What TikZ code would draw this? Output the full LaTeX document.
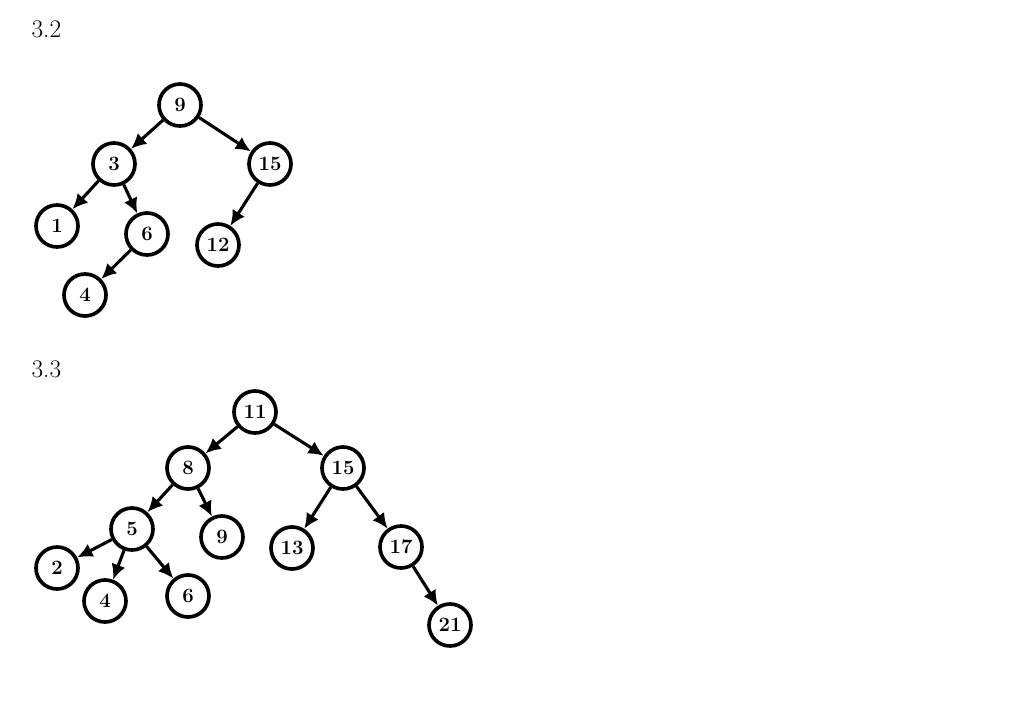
\documentclass[tikz,border=0pt]{standalone}
\usepackage{fontspec}
\usetikzlibrary{arrows.meta}

\tikzset{
    knot/.style={draw, circle, line width=2.6pt, minimum size=1.05cm, inner sep=0pt,
        font=\fontsize{14.5}{16}\selectfont\bfseries},
    edge/.style={-{Latex[length=3.8mm,width=3.6mm]}, line width=2.2pt},
    heading/.style={font=\fontsize{18}{20}\selectfont}
}

\begin{document}
\begin{tikzpicture}
        \useasboundingbox (0,0) rectangle (25.6,-17.775);

        \node[heading] (h32) at (1.16,-0.725) {3.2};

        \node[knot] (a9) at (4.5,-2.625) {9};
        \node[knot] (a3) at (2.85,-4.1) {3};
        \node[knot] (a15) at (6.75,-4.1) {15};
        \node[knot] (a1) at (1.425,-5.65) {1};
        \node[knot] (a6) at (3.675,-5.85) {6};
        \node[knot] (a12) at (5.45,-6.125) {12};
        \node[knot] (a4) at (2.125,-7.375) {4};

        \draw[edge] (a9) -- (a3);
        \draw[edge] (a9) -- (a15);
        \draw[edge] (a3) -- (a1);
        \draw[edge] (a3) -- (a6);
        \draw[edge] (a15) -- (a12);
        \draw[edge] (a6) -- (a4);

        \node[heading] (h33) at (1.16,-9.225) {3.3};

        \node[knot] (b11) at (6.375,-10.3) {11};
        \node[knot] (b8) at (4.7,-11.7) {8};
        \node[knot] (b15) at (8.575,-11.7) {15};
        \node[knot] (b5) at (3.3,-13.225) {5};
        \node[knot] (b9) at (5.55,-13.425) {9};
        \node[knot] (b13) at (7.3,-13.7) {13};
        \node[knot] (b17) at (10.025,-13.675) {17};
        \node[knot] (b2) at (1.425,-14.2) {2};
        \node[knot] (b4) at (2.625,-15.025) {4};
        \node[knot] (b6) at (4.7,-14.9) {6};
        \node[knot] (b21) at (11.25,-15.625) {21};

        \draw[edge] (b11) -- (b8);
        \draw[edge] (b11) -- (b15);
        \draw[edge] (b8) -- (b5);
        \draw[edge] (b8) -- (b9);
        \draw[edge] (b15) -- (b13);
        \draw[edge] (b15) -- (b17);
        \draw[edge] (b5) -- (b2);
        \draw[edge] (b5) -- (b4);
        \draw[edge] (b5) -- (b6);
        \draw[edge] (b17) -- (b21);

    \end{tikzpicture}
\end{document}
